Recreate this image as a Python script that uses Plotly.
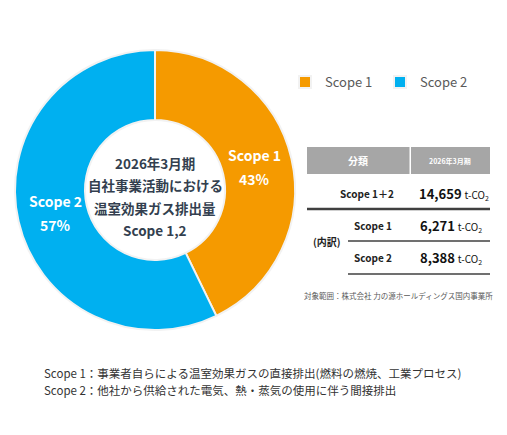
import math
import plotly.graph_objects as go

# Scope別 排出量 (t-CO2), 2026年3月期
scopes = ["Scope 1", "Scope 2"]
emissions = [6271, 8388]
colors = ["#F59A00", "#00B0F0"]

center_lines = ["2026年3月期", "自社事業活動における", "温室効果ガス排出量", "Scope 1,2"]

table_header = ["分類", "2026年3月期"]
total_label = "Scope 1＋2"
total_value = "14,659"
breakdown_label = "(内訳)"
breakdown_rows = ["Scope 1", "Scope 2"]
breakdown_values = ["6,271", "8,388"]
table_note = "対象範囲：株式会社 力の源ホールディングス国内事業所"

footnotes = [
    "Scope 1：事業者自らによる温室効果ガスの直接排出(燃料の燃焼、工業プロセス)",
    "Scope 2：他社から供給された電気、熱・蒸気の使用に伴う間接排出",
]

W, H = 507, 435
FONT = "Noto Sans CJK JP"
OFF = 8  # page body margin, the figure is drawn 8px in from the corner

# donut placement (pixels from top-left of the page)
CX, CY, R = 155, 190, 140


def px(x):
    return (x - OFF) / W


def py(y):
    # y measured from the top in pixels
    return 1 - (y - OFF) / H


def note(x, y, text, size, color, anchor="center", bold=False):
    if bold:
        text = "<b>%s</b>" % text
    return dict(x=px(x), y=py(y), xref="paper", yref="paper",
                xanchor=anchor, yanchor="middle", text=text,
                showarrow=False, align="center",
                font=dict(size=size, color=color, family=FONT))


fig = go.Figure()
fig.add_trace(go.Pie(
    labels=scopes,
    values=emissions,
    hole=0.5,
    sort=False,
    direction="clockwise",
    rotation=0,
    marker=dict(colors=colors, line=dict(color="#F2F2F2", width=2)),
    textinfo="none",
    domain=dict(x=[px(CX - R), px(CX + R)], y=[py(CY + R), py(CY - R)]),
    hoverinfo="label+value+percent",
))

ann = []
shapes = []

# slice labels at the middle of each slice
total = sum(emissions)
start = 0
for lab, v in zip(scopes, emissions):
    mid = (start + v / 2) / total * 2 * math.pi
    start += v
    lx = CX + 102 * math.sin(mid)
    ly = CY - 102 * math.cos(mid)
    ann.append(note(lx, ly - 12, lab, 14, "white", bold=True))
    ann.append(note(lx, ly + 12, "%d%%" % round(v / total * 100), 14, "white", bold=True))

# center text of the donut
for i, s in enumerate(center_lines):
    ann.append(note(CX, 163 + 22.3 * i, s, 13.5, "#333F4F", bold=True))

# table header
shapes.append(dict(type="rect", xref="paper", yref="paper",
                   x0=px(307), x1=px(409.5), y0=py(174), y1=py(147),
                   fillcolor="#A6A6A6", line=dict(width=0)))
shapes.append(dict(type="rect", xref="paper", yref="paper",
                   x0=px(411), x1=px(490), y0=py(174), y1=py(147),
                   fillcolor="#A6A6A6", line=dict(width=0)))
ann.append(note(358, 160.5, table_header[0], 10, "white", bold=True))
ann.append(note(450, 160.5, table_header[1], 7, "white", bold=True))


def value_text(v):
    return "<b>%s</b> <span style='font-size:10px'>t-CO<sub>2</sub></span>" % v


# total row
ann.append(note(367, 193, total_label, 10, "#222222", bold=True))
ann.append(note(417, 193, value_text(total_value), 13, "#111111", anchor="left"))
shapes.append(dict(type="line", xref="paper", yref="paper",
                   x0=px(307), x1=px(490), y0=py(209), y1=py(209),
                   line=dict(color="#404040", width=2.5)))

# breakdown rows
ann.append(note(327, 241, breakdown_label, 10, "#222222", bold=True))
row_y = [226, 258]
line_y = [241, 274]
for lab, val, ry, ly in zip(breakdown_rows, breakdown_values, row_y, line_y):
    ann.append(note(373, ry, lab, 10, "#222222", bold=True))
    ann.append(note(418, ry, value_text(val), 13, "#111111", anchor="left"))
    shapes.append(dict(type="line", xref="paper", yref="paper",
                       x0=px(348), x1=px(490), y0=py(ly), y1=py(ly),
                       line=dict(color="#404040", width=1.5)))

ann.append(note(398, 295, table_note, 7.5, "#595959"))

# footnotes
for i, t in enumerate(footnotes):
    ann.append(note(42, 373 + 17 * i, t, 11.5, "#333333", anchor="left"))

fig.update_layout(
    width=W, height=H,
    margin=dict(l=0, r=0, t=0, b=0, autoexpand=False),
    paper_bgcolor="white",
    plot_bgcolor="white",
    showlegend=True,
    legend=dict(orientation="h", x=px(285), y=py(82), xanchor="left", yanchor="middle",
                font=dict(size=13, color="#595959", family=FONT),
                itemwidth=30, entrywidth=50, entrywidthmode="pixels",
                traceorder="normal"),
    annotations=ann,
    shapes=shapes,
)

fig.write_html("out.html")
